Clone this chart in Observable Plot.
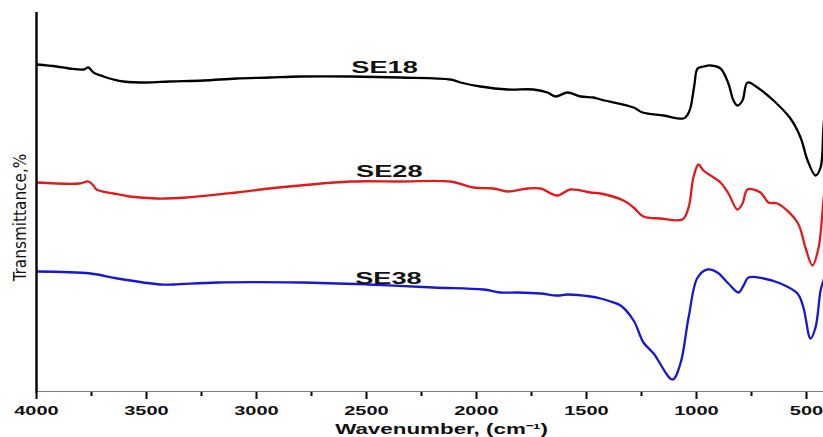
<!DOCTYPE html>
<html>
<head>
<meta charset="utf-8">
<script src="https://cdn.jsdelivr.net/npm/d3@7"></script>
<script src="https://cdn.jsdelivr.net/npm/@observablehq/plot@0.6"></script>
<style>
  html, body { margin: 0; padding: 0; background: #fff; overflow: hidden; }
  svg { display: block; }
</style>
</head>
<body>
<script>
// ---- data (wavenumber cm^-1, transmittance in arbitrary units) ----
const se18Wn = [4000,3909,3850,3786,3764,3741,3695,3650,3605,3500,3395,3241,3091,2941,2800,2573,2345,2118,2073,1982,1859,1741,1677,1641,1586,1527,1468,1436,1286,1245,1150,1059,1040,1027,1010,995,968,936,891,855,832,814,791,768,723,650,573,527,495,459,436,423,409];
const se18T  = [328,326,324,323,325,320,316,313,311,310,311,312,314,315,316,316,315,313,310,306,303,303,300,296,300,296,295,293,285,280,277,274,278,285,307,324,326,327,324,309,292,287,292,310,305,292,274,255,232,217,225,265,302];

const se28Wn = [4000,3805,3764,3741,3727,3650,3577,3455,3318,3091,2941,2800,2573,2345,2118,2014,1923,1859,1768,1709,1632,1573,1482,1436,1332,1286,1241,1164,1064,1036,1014,991,968,891,855,814,791,768,709,673,632,541,505,473,445,423,409];
const se28T  = [210,209,211,207,203,199,196,194,195,200,204,207,211,211,211,205,204,201,204,204,197,203,200,199,192,185,176,174,173,185,215,228,222,210,199,183,189,203,200,190,189,170,145,127,145,192,222];

const se38Wn = [4000,3755,3632,3436,3377,3177,2800,2495,2195,1968,1891,1814,1709,1632,1586,1482,1436,1391,1345,1286,1241,1195,1109,1073,1036,995,950,905,855,809,786,764,695,618,541,514,482,459,436,423,409];
const se38T  = [121,119,114,108,108,110,110,108,105,103,100,100,99,97,98,96,94,91,87,72,50,39,13,29,75,115,123,120,109,100,107,115,114,109,99,85,54,65,102,112,122];

const seriesNames = ["SE18", "SE28", "SE38"];
const seriesColors = ["#000000", "#e3191c", "#1717d4"];
const labelWn = [2418, 2396, 2400];
const labelT = [325, 221, 114];

const majorTicks = [4000, 3500, 3000, 2500, 2000, 1500, 1000, 500];
const minorTicks = [3750, 3250, 2750, 2250, 1750, 1250, 750];
const xTitle = "Wavenumber, (cm\u207B\u00B9)";
const yTitle = "Transmittance,%";

// ---- build tables ----
const wnArrays = [se18Wn, se28Wn, se38Wn];
const tArrays = [se18T, se28T, se38T];
const spectra = seriesNames.flatMap((name, k) =>
  wnArrays[k].map((w, i) => ({series: name, wn: w, t: tArrays[k][i]})));
const labels = seriesNames.map((name, k) => ({name, wn: labelWn[k], t: labelT[k]}));

const chart = Plot.plot({
  width: 823,
  height: 437,
  marginLeft: 36,
  marginRight: 0,
  marginTop: 12,
  marginBottom: 45,
  x: {domain: [4000, 400], range: [36, 828], axis: null},
  y: {domain: [0, 380], range: [392, 12], axis: null},
  color: {domain: seriesNames, range: seriesColors},
  style: {fontFamily: "'Liberation Sans', Arial, sans-serif", background: "#fff"},
  marks: [
    Plot.line(spectra, {x: "wn", y: "t", z: "series", stroke: "series",
      strokeWidth: 2.3, curve: "catmull-rom", clip: true}),
    // axes
    Plot.ruleY([0], {x1: 4000, x2: 400, stroke: "#000", strokeWidth: 1.8, clip: true}),
    Plot.ruleX([4000], {y1: -0.5, y2: 380, stroke: "#000", strokeWidth: 2.4}),
    Plot.ruleX(majorTicks, {y1: 0, y2: -7, stroke: "#000", strokeWidth: 2}),
    Plot.ruleX(minorTicks, {y1: 0, y2: -4, stroke: "#000", strokeWidth: 2}),
    Plot.text(majorTicks, {x: d => d, y: -18.5, text: d => String(d),
      fontSize: 12.5, fontWeight: "bold", fill: "#111", className: "stretch-a"}),
    Plot.text([xTitle], {x: 2159, y: -37, text: d => d,
      fontSize: 14, fontWeight: "bold", fill: "#111", className: "stretch-b"}),
    Plot.text([yTitle], {x: 4073, y: 175, text: d => d, rotate: -90,
      fontSize: 17, fill: "#111",
      fontFamily: "'Liberation Sans Narrow', 'Arial Narrow', 'DejaVu Sans Condensed', sans-serif"}),
    Plot.text(labels, {x: "wn", y: "t", text: "name",
      fontSize: 16, fontWeight: "bold", fill: "#111", className: "stretch-c"})
  ]
});

document.body.append(chart);

function stretch(selector, s) {
  chart.querySelectorAll(selector).forEach(t => {
    const b = t.getBBox();
    const cx = b.x + b.width / 2;
    const ex = t.getAttribute("transform") || "";
    t.setAttribute("transform", `${ex} translate(${cx},0) scale(${s},1) translate(${-cx},0)`);
  });
}
stretch("g.stretch-a text", 1.6);
stretch("g.stretch-b text", 1.6);
stretch("g.stretch-c text", 1.7);
</script>
</body>
</html>
